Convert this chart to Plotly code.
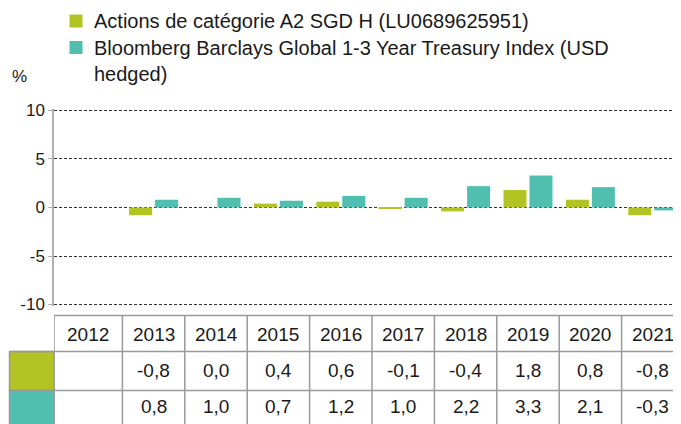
import plotly.graph_objects as go

# ---- data ----
years = ["2012", "2013", "2014", "2015", "2016", "2017", "2018", "2019", "2020", "2021"]
fund_values = [None, -0.8, 0.0, 0.4, 0.6, -0.1, -0.4, 1.8, 0.8, -0.8]
index_values = [None, 0.8, 1.0, 0.7, 1.2, 1.0, 2.2, 3.3, 2.1, -0.3]
fund_name = "Actions de catégorie A2 SGD H (LU0689625951)"
index_name_lines = ["Bloomberg Barclays Global 1-3 Year Treasury Index (USD", "hedged)"]
y_ticks = [-10, -5, 0, 5, 10]
unit_label = "%"

GREEN = "#B1C424"
TEAL = "#50BFB0"
LINE = "#9a9a9a"
TXT = "#1a1a1a"
FONT = "Liberation Sans, Arial, sans-serif"

# the page adds an 8px body margin: work in reference pixels and shift
OFF = 8
W, H = 681 - OFF, 424 - OFF
PAD_UNITS = 0.15
UNIT_PX = 9.72
ML = 54 - OFF
MT = round(110 - PAD_UNITS * UNIT_PX) - OFF
MR = 0
PLOT_BOTTOM = round(305 + PAD_UNITS * UNIT_PX)
MB = H - (PLOT_BOTTOM - OFF)
PW, PH = W - ML - MR, H - MT - MB
COL = 62.4  # px per category
r0 = -0.5 - 6.0 / COL
r1 = r0 + PW / COL


def px(xp):  # reference pixel x -> paper
    return (xp - OFF - ML) / PW


def py(yp):  # reference pixel y -> paper
    return (H - MB - (yp - OFF)) / PH


def fmt(v):
    return "" if v is None else f"{v:.1f}".replace(".", ",")


xs = list(range(len(years)))
fig = go.Figure()
fig.add_bar(x=xs, y=fund_values, name=fund_name, marker_color=GREEN, marker_line_width=0)
fig.add_bar(x=xs, y=index_values, name=" ".join(index_name_lines), marker_color=TEAL, marker_line_width=0)

shapes = []
annots = []

# table geometry (reference pixels)
T_TOP, R1, R2, T_BOT = 315.5, 351.5, 390.5, 440
LEFT_CELL = 9.5

bounds = [r0] + [i - 0.5 for i in range(1, len(years))] + [len(years) - 0.5]
for b in bounds[:-1]:
    shapes.append(dict(type="line", xref="x", yref="paper", x0=b, x1=b, y0=py(T_TOP), y1=py(T_BOT),
                       line=dict(color=LINE, width=1.5)))
shapes.append(dict(type="rect", xref="paper", yref="paper", x0=px(LEFT_CELL), x1=0, y0=py(R1), y1=py(R2),
                   fillcolor=GREEN, line=dict(color=LINE, width=1.5)))
shapes.append(dict(type="rect", xref="paper", yref="paper", x0=px(LEFT_CELL), x1=0, y0=py(R2), y1=py(T_BOT),
                   fillcolor=TEAL, line=dict(color=LINE, width=1.5)))
shapes.append(dict(type="line", xref="paper", yref="paper", x0=0, x1=1, y0=py(T_TOP), y1=py(T_TOP),
                   line=dict(color=LINE, width=1.5)))
for yy in (R1, R2):
    shapes.append(dict(type="line", xref="paper", yref="paper", x0=px(LEFT_CELL), x1=1, y0=py(yy), y1=py(yy),
                       line=dict(color=LINE, width=1.5)))

for i, yr in enumerate(years):
    cx = (bounds[i] + bounds[i + 1]) / 2
    annots.append(dict(x=cx, y=py((T_TOP + R1) / 2 + 1), xref="x", yref="paper", text=yr, showarrow=False,
                       font=dict(size=19, color=TXT, family=FONT), xanchor="center", yanchor="middle"))
    annots.append(dict(x=cx, y=py((R1 + R2) / 2 - 1), xref="x", yref="paper", text=fmt(fund_values[i]), showarrow=False,
                       font=dict(size=19, color=TXT, family=FONT), xanchor="center", yanchor="middle"))
    annots.append(dict(x=cx, y=py(406.5), xref="x", yref="paper", text=fmt(index_values[i]), showarrow=False,
                       font=dict(size=19, color=TXT, family=FONT), xanchor="center", yanchor="middle"))

legend_rows = [([fund_name], GREEN, 21), (index_name_lines, TEAL, 47.5)]
for lines, col, yc in legend_rows:
    shapes.append(dict(type="rect", xref="paper", yref="paper", x0=px(69.5), x1=px(82.5), y0=py(yc - 6.5), y1=py(yc + 6.5),
                       fillcolor=col, line=dict(width=0)))
    for j, t in enumerate(lines):
        annots.append(dict(x=px(92), y=py(yc + j * 26), xref="paper", yref="paper", text=t, showarrow=False,
                           font=dict(size=20, color=TXT, family=FONT), xanchor="left", yanchor="middle"))

annots.append(dict(x=px(10), y=py(76), xref="paper", yref="paper", text=unit_label, showarrow=False,
                   font=dict(size=17, color=TXT, family=FONT), xanchor="left", yanchor="middle"))

fig.update_layout(
    width=W, height=H,
    margin=dict(l=ML, r=MR, t=MT, b=MB, pad=0),
    paper_bgcolor="white", plot_bgcolor="white",
    showlegend=False,
    barmode="group", bargap=0.167, bargroupgap=0.115,
    font=dict(family=FONT, color=TXT, size=17),
    xaxis=dict(range=[r0, r1], showticklabels=False, showgrid=False, zeroline=False, showline=False, ticks=""),
    yaxis=dict(range=[-10 - PAD_UNITS, 10 + PAD_UNITS], tickvals=y_ticks, ticktext=[str(v) for v in y_ticks],
               showgrid=True, gridcolor="#333333", gridwidth=1, griddash="3px,2px",
               zeroline=False, showline=True, linecolor="#b0b0b0", linewidth=1.5,
               ticks="outside", ticklen=4, tickcolor="#b0b0b0", tickfont=dict(size=17, color=TXT, family=FONT)),
    shapes=shapes, annotations=annots,
)

fig.write_html("out.html")
